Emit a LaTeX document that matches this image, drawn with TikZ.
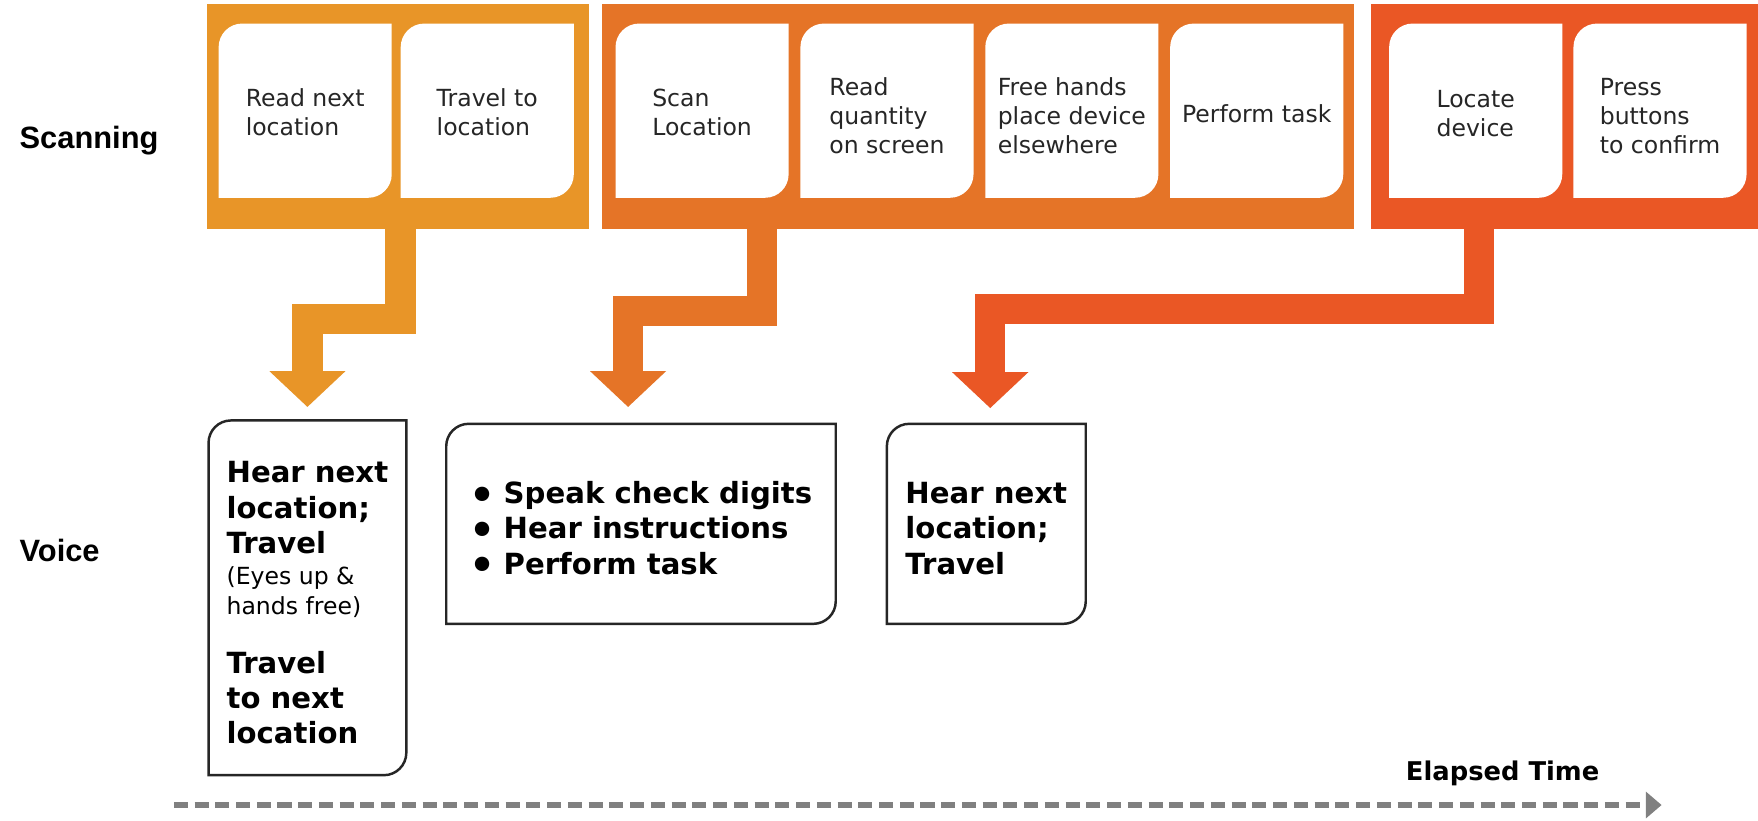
\documentclass[tikz,border=0pt]{standalone}
\usepackage{graphicx}
\usepackage{fontspec}
\setmainfont{DejaVu Sans}
\newfontfamily\headfont{Liberation Sans}
\usetikzlibrary{arrows.meta,positioning,backgrounds}

\definecolor{stepone}{HTML}{E89528}
\definecolor{steptwo}{HTML}{E57427}
\definecolor{stepthree}{HTML}{EA5725}
\definecolor{timegray}{HTML}{808080}

\newcommand{\blob}{\smash{\raisebox{-0.2em}{\scalebox{1.4}{•}}}\hspace{7pt}}
\newcommand{\aside}{\mdseries\fontsize{21}{27}\selectfont}
\newcommand{\lift}[1]{\rule{0pt}{#1}}

\tikzset{
  task/.style={minimum width=154pt, minimum height=155pt, inner sep=0pt, align=left,
    text=black!85, font=\fontsize{21}{25.5}\selectfont},
  frame/.style={minimum height=201pt, inner sep=0pt, anchor=north west},
  voicebox/.style={inner sep=0pt, align=left, anchor=north west,
    font=\fontsize{26}{31.5}\selectfont\bfseries},
  flow/.style={line width=27pt, -{Triangle[width=66pt,length=32pt]}},
  lane/.style={font=\headfont\bfseries\fontsize{27.5}{32}\selectfont, anchor=base west},
}

\begin{document}
\begin{tikzpicture}[x=1pt, y=1pt]
\useasboundingbox (0,0) rectangle (1568,-732);

\node[lane] (scan) at (14,-132) {Scanning};
\node[lane] (voice) at (14,-501) {Voice};

% scanning steps
\node[task, anchor=north west] (s1) at (195,-21) {\lift{19pt}Read next\\location};
\node[task, right=8pt of s1] (s2) {\lift{19pt}Travel to\\location};
\node[task, anchor=north west] (s3) at (549,-21) {\lift{19pt}Scan\\Location};
\node[task, right=10.5pt of s3] (s4) {\lift{25pt}Read\\quantity\\on screen};
\node[task, right=10.5pt of s4] (s5) {\lift{25pt}Free hands\\place device\\elsewhere};
\node[task, right=10.5pt of s5] (s6) {\lift{22pt}Perform task};
\node[task, anchor=north west] (s7) at (1239,-21) {\lift{20pt}Locate\\device};
\node[task, right=10pt of s7] (s8) {\lift{25pt}Press\\buttons\\to confirm};

\begin{scope}[on background layer]
  \fill[white] (0,0) rectangle (1568,-732);
  \node[frame, fill=stepone, minimum width=341pt] (f1) at (184,-3) {};
  \node[frame, fill=steptwo, minimum width=670.5pt] (f2) at (537,-3) {};
  \node[frame, fill=stepthree, minimum width=345pt] (f3) at (1223,-3) {};
  \foreach \n in {s1,s2,s3,s4,s5,s6,s7,s8}
    \fill[white] (\n.south west) -- ([yshift=-21pt]\n.north west)
      arc[start angle=180, end angle=90, radius=21pt] -- (\n.north east)
      -- ([yshift=21pt]\n.south east) arc[start angle=0, end angle=-90, radius=21pt] -- cycle;
\end{scope}

% voice steps
\node[voicebox, minimum width=176pt, minimum height=316pt] (v1) at (186,-375)
  {\lift{28pt}Hear next\\location;\\Travel\\[-4pt]\aside (Eyes up \&\\[-4.5pt]\aside hands free)\\[20.5pt]Travel\\to next\\location};
\node[voicebox, minimum width=347pt, minimum height=178pt] (v2) at (398,-378)
  {\lift{27pt}\blob Speak check digits\\\blob Hear instructions\\\blob Perform task};
\node[voicebox, minimum width=177pt, minimum height=178pt] (v3) at (791,-378)
  {\lift{27pt}Hear next\\location;\\Travel};

\foreach \n in {v1,v2,v3}
  \draw[line width=2.2pt, black!85] (\n.south west) -- ([yshift=-20pt]\n.north west)
    arc[start angle=180, end angle=90, radius=20pt] -- (\n.north east)
    -- ([yshift=20pt]\n.south east) arc[start angle=0, end angle=-90, radius=20pt] -- cycle;

\draw[flow, stepone] ([xshift=2.5pt,yshift=2pt]f1.south) -- ++(0,-82) -| ([yshift=12pt]v1.north);
\draw[flow, steptwo] ([xshift=-193pt,yshift=2pt]f2.south) -- ++(0,-75) -| ([xshift=-11.5pt,yshift=15pt]v2.north);
\draw[flow, stepthree] ([xshift=-76.5pt,yshift=2pt]f3.south) -- ++(0,-73) -| ([xshift=3.5pt,yshift=14pt]v3.north);

% time axis
\coordinate (t0) at (155,-718);
\coordinate (t1) at (1482,-718);
\draw[line width=5pt, timegray, dash pattern=on 12.5pt off 6pt, -{Triangle[width=23pt,length=14pt]}] (t0) -- (t1);
\node[font=\fontsize{23}{28}\selectfont\bfseries, anchor=base east] (elapsed) at (1430,-696) {Elapsed Time};
\end{tikzpicture}
\end{document}
